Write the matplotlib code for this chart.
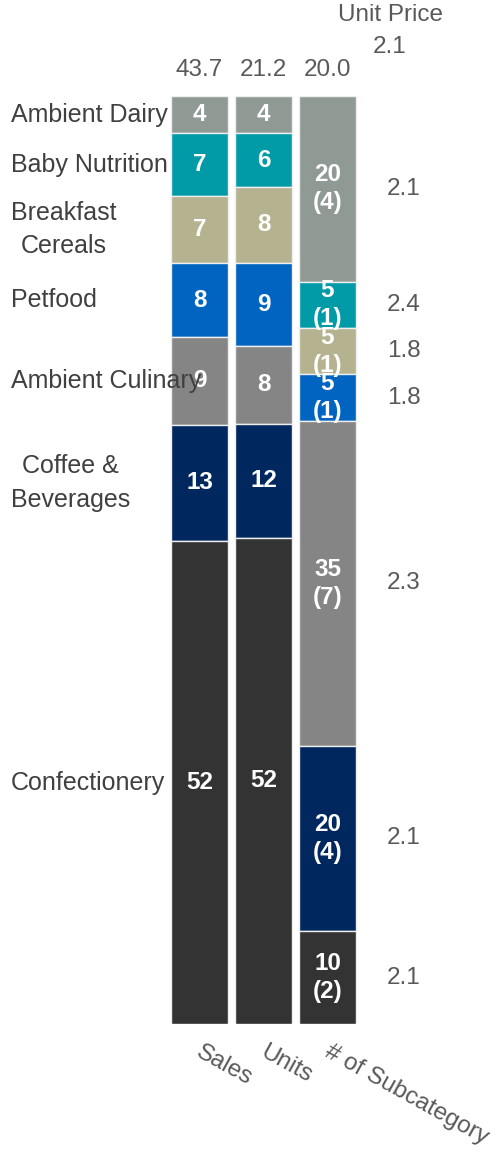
import matplotlib
matplotlib.use("Agg")
import matplotlib.pyplot as plt
import matplotlib.transforms as mtransforms

plt.rcParams["font.family"] = ["Liberation Sans", "DejaVu Sans"]

# Categories, top of the stack first
categories = ["Ambient Dairy", "Baby Nutrition", "Breakfast\nCereals", "Petfood",
              "Ambient Culinary", "Coffee &\nBeverages", "Confectionery"]
colors = ["#8f9a94", "#009ba6", "#b5b38f", "#0064c0", "#858585", "#00285f", "#333333"]

# Share of total (%) per measure
sales_share = [4.0, 6.8, 7.2, 8.0, 9.4, 12.6, 52.0]
units_share = [4.0, 5.8, 8.2, 8.9, 8.4, 12.3, 52.4]
subcat_count = [4, 1, 1, 1, 7, 4, 2]
unit_price = [2.1, 2.4, 1.8, 1.8, 2.3, 2.1, 2.1]

columns = ["Sales", "Units", "# of Subcategory"]
totals = [43.7, 21.2, 20.0]
total_unit_price = 2.1

subcat_total = sum(subcat_count)
subcat_share = [c / subcat_total * 100 for c in subcat_count]

W, H = 500, 1152
fig = plt.figure(figsize=(W / 100, H / 100), dpi=100)
ax = fig.add_axes([160 / W, 1 - 1024 / H, 210 / W, (1024 - 96) / H])

px_per_x = 64.0
x0_px = 199.5
ax.set_xlim((160 - x0_px) / px_per_x, (370 - x0_px) / px_per_x)
ax.set_ylim(0, 100)

bar_w = 57 / px_per_x
label_color = "#404040"
soft_color = "#595959"


def stack(values, x, texts):
    top = 100.0
    mids = []
    for v, c, t in zip(values, colors, texts):
        bottom = top - v
        ax.bar(x, v, bottom=bottom, width=bar_w, color=c, edgecolor="#eeeeee",
               linewidth=1.0, zorder=2)
        mid = bottom + v / 2
        mids.append(mid)
        ax.text(x, mid, t, ha="center", va="center", color="white",
                fontsize=17.5, fontweight="bold", zorder=5, linespacing=1.3)
        top = bottom
    return mids


sales_mids = stack(sales_share, 0, [f"{v:.0f}" for v in sales_share])
stack(units_share, 1, [f"{v:.0f}" for v in units_share])
sub_mids = stack(subcat_share, 2,
                 [f"{s:.0f}\n({c})" for s, c in zip(subcat_share, subcat_count)])

# Category names beside the sales column
label_x = (11 - x0_px) / px_per_x
for name, y in zip(categories, sales_mids):
    ax.text(label_x, y, name, ha="left", va="center", multialignment="center",
            color=label_color, fontsize=18, zorder=6, linespacing=1.5)

# Unit prices beside the subcategory column
price_x = (387 - x0_px) / px_per_x
for p, y in zip(unit_price, sub_mids):
    ax.text(price_x, y, f"{p:.1f}", ha="left", va="center", color=soft_color,
            fontsize=17.5)

# Column totals and header
px_per_pct = (1024 - 96) / 100.0
for i, t in enumerate(totals):
    ax.text(i, 100 + (96 - 70) / px_per_pct, f"{t:.1f}", ha="center", va="center",
            color=soft_color, fontsize=17.5)
ax.text((373 - x0_px) / px_per_x, 100 + (96 - 47) / px_per_pct, f"{total_unit_price:.1f}",
        ha="left", va="center", color=soft_color, fontsize=17.5)
ax.text((391 - x0_px) / px_per_x, 100 + (96 - 15) / px_per_pct, "Unit Price",
        ha="center", va="center", color=soft_color, fontsize=17.5)

ax.set_xticks(range(len(columns)))
ax.set_xticklabels(columns, rotation=-29, ha="left", rotation_mode="anchor",
                   color=soft_color, fontsize=17.5)
ax.tick_params(axis="x", length=0, pad=12)
shift = mtransforms.ScaledTranslation(4 / 100, 0, fig.dpi_scale_trans)
for lbl in ax.get_xticklabels():
    lbl.set_transform(lbl.get_transform() + shift)
ax.set_yticks([])
for s in ax.spines.values():
    s.set_visible(False)

fig.savefig("out.png", dpi=100)
